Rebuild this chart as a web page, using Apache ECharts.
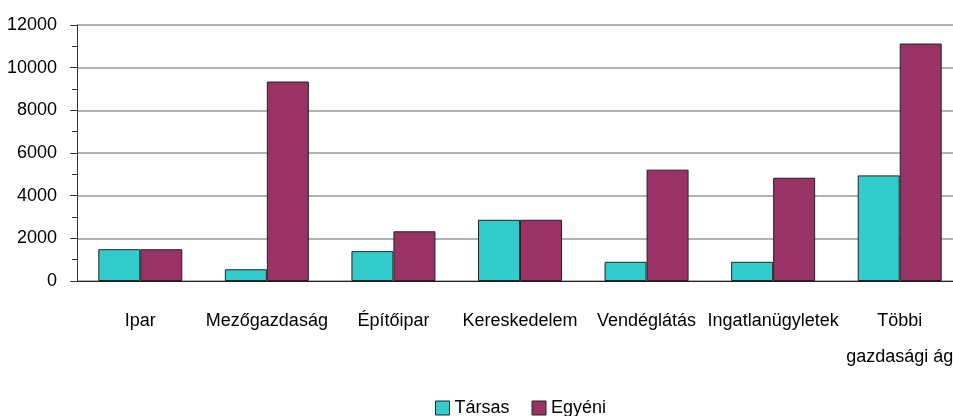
<!DOCTYPE html>
<html>
<head>
<meta charset="utf-8">
<script src="https://cdn.jsdelivr.net/npm/echarts@6/dist/echarts.min.js"></script>
<style>
  html, body { margin: 0; padding: 0; background: #fff; }
  #dom { width: 953px; height: 416px; }
</style>
</head>
<body>
<div id="dom"></div>
<script>
// ágazatok
var categories = ['Ipar', 'Mezőgazdaság', 'Építőipar', 'Kereskedelem', 'Vendéglátás', 'Ingatlanügyletek', 'Többi\ngazdasági ág'];
var tarsas = [1490, 550, 1400, 2870, 900, 900, 4950];
var egyeni = [1490, 9350, 2330, 2870, 5220, 4840, 11130];
var yTicks = [0, 2000, 4000, 6000, 8000, 10000, 12000];

var font = '"Liberation Sans", Arial, sans-serif';

var myChart = echarts.init(document.getElementById('dom'));

var option = {
  backgroundColor: '#fff',
  animation: false,
  textStyle: { fontFamily: font },
  legend: {
    data: ['Társas', 'Egyéni'],
    left: 430,
    top: 394,
    itemWidth: 14,
    itemHeight: 14,
    itemGap: 22,
    icon: 'rect',
    itemStyle: { borderColor: '#222', borderWidth: 1 },
    textStyle: { fontFamily: font, fontSize: 18, color: '#000', padding: [0, 0, 8, 0] }
  },
  grid: {
    left: 77,
    top: 25,
    right: -10,
    bottom: 135,
    outerBoundsMode: 'none',
    containLabel: false
  },
  xAxis: {
    type: 'category',
    data: categories,
    axisLine: { lineStyle: { color: '#222', width: 1 } },
    axisTick: { length: 8, lineStyle: { color: '#333' } },
    axisLabel: {
      interval: 0,
      hideOverlap: false,
      margin: 22,
      fontFamily: font,
      fontSize: 18,
      lineHeight: 36,
      color: '#000',
      align: 'center'
    }
  },
  yAxis: {
    type: 'value',
    min: yTicks[0],
    max: yTicks[yTicks.length - 1],
    interval: 2000,
    axisLine: { show: true, lineStyle: { color: '#333', width: 1 } },
    axisTick: { show: true, length: 7, lineStyle: { color: '#333' } },
    minorTick: { show: true, splitNumber: 2, length: 5, lineStyle: { color: '#333' } },
    splitLine: { lineStyle: { color: '#999', width: 1.5 } },
    axisLabel: {
      margin: 20,
      fontFamily: font,
      fontSize: 18,
      color: '#000',
      formatter: function (v) { return String(v); }
    }
  },
  series: [{
    name: 'Társas',
    type: 'bar',
    data: tarsas,
    barWidth: 42,
    barGap: '0%',
    itemStyle: { color: '#33CCCC', borderColor: '#222', borderWidth: 1 }
  }, {
    name: 'Egyéni',
    type: 'bar',
    data: egyeni,
    barWidth: 42,
    barGap: '0%',
    itemStyle: { color: '#993366', borderColor: '#222', borderWidth: 1 }
  }]
};
myChart.setOption(option);
</script>
</body>
</html>
